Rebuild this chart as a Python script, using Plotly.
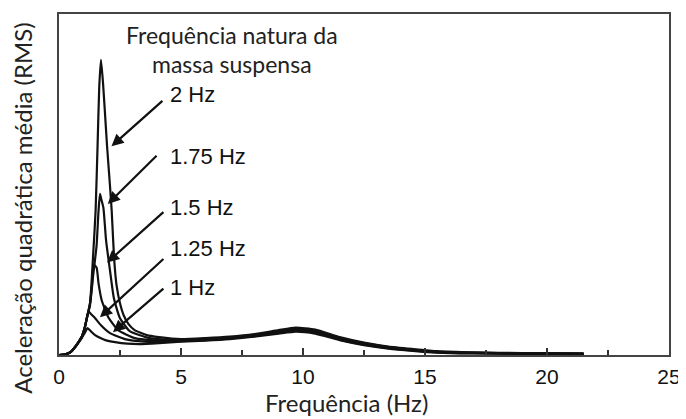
import plotly.graph_objects as go

# Frequência (Hz) / aceleração RMS (unidade arbitrária) por frequência natural
freq_1 = [0, 0.3, 0.5, 0.66, 0.8, 0.93, 1.05, 1.17, 1.3, 1.48, 1.7, 1.9, 2.3, 2.8, 3.3, 4.1,
          5, 6, 7, 8, 9, 9.7, 10.5, 11.5, 12.5, 13.5, 14.5, 15.5, 17, 19, 21.5]
rms_1 = [0, 1, 3.5, 8, 12.5, 17, 22, 27, 24, 20, 17, 15, 13, 11.5, 11, 12,
         13.5, 14.5, 16, 18.5, 21.5, 23.5, 21.5, 15, 10, 6.5, 4.2, 2.4, 1.5, 1.1, 0.8]

freq_125 = [0, 0.3, 0.5, 0.66, 0.8, 0.93, 1.05, 1.14, 1.21, 1.32, 1.48, 1.72, 2.09, 2.7, 3.5, 4.55,
            5, 6, 7, 8, 9, 9.7, 10.5, 11.5, 12.5, 13.5, 14.5, 15.5, 17, 19, 21.5]
rms_125 = [0, 1, 3.5, 8, 13, 18, 27, 37, 44, 41, 37, 30, 22, 16, 13.5, 13.5,
           14, 15, 16.5, 19, 22.5, 24.5, 22.5, 15.5, 10.5, 7, 4.6, 2.7, 1.8, 1.3, 1]

freq_15 = [0, 0.3, 0.5, 0.66, 0.8, 0.93, 1.05, 1.14, 1.27, 1.35, 1.42, 1.54, 1.62, 1.75, 2.02, 2.42, 3.1, 4.1,
           5, 6, 7, 8, 9, 9.7, 10.5, 11.5, 12.5, 13.5, 14.5, 15.5, 17, 19, 21.5]
rms_15 = [0, 1, 3.5, 8, 13, 18, 27, 37, 52, 70, 91, 88, 72, 55, 38, 25, 17, 14.5,
          14.5, 15.5, 17, 19.5, 23, 25.5, 23.5, 16.5, 11.5, 7.5, 5, 3, 2, 1.5, 1.1]

freq_175 = [0, 0.3, 0.5, 0.66, 0.8, 0.93, 1.05, 1.14, 1.27, 1.4, 1.54, 1.62, 1.68, 1.74, 1.82, 1.93,
            2.09, 2.25, 2.5, 2.9, 3.7, 4.75,
            5.2, 6, 7, 8, 9, 9.7, 10.5, 11.5, 12.5, 13.5, 14.5, 15.5, 17, 19, 21.5]
rms_175 = [0, 1, 3.5, 8, 13, 18, 27, 37, 50, 80, 110, 145, 162, 156, 148, 115,
           85, 57, 37, 24, 17, 15,
           15, 16, 17.5, 20, 24, 26.5, 24.5, 17, 12, 8, 5.5, 3.4, 2.3, 1.8, 1.3]

freq_2 = [0, 0.3, 0.5, 0.66, 0.8, 0.93, 1.05, 1.14, 1.27, 1.41, 1.5, 1.58, 1.65, 1.72, 1.8, 1.88,
          1.97, 2.09, 2.16, 2.22, 2.28, 2.36, 2.5, 2.65, 2.85, 3.1, 3.6, 4.1,
          5, 6, 7, 8, 9, 9.7, 10.5, 11.5, 12.5, 13.5, 14.5, 15.5, 17, 19, 21.5]
rms_2 = [0, 1, 3.5, 8, 13, 18, 27, 37, 52, 105, 145, 210, 270, 297, 275, 245,
         210, 170, 145, 115, 90, 70, 52, 40, 31, 25, 20, 18,
         16, 17, 18.5, 21, 25, 27.5, 25.5, 18, 12.5, 8.5, 6, 3.8, 2.6, 2, 1.6]

series = [(freq_1, rms_1), (freq_125, rms_125), (freq_15, rms_15),
          (freq_175, rms_175), (freq_2, rms_2)]

# rótulos das curvas: texto, posição do texto, ponta da seta
labels = ['2 Hz', '1.75 Hz', '1.5 Hz', '1.25 Hz', '1 Hz']
label_y = [262, 200, 148, 107, 68]
arrow_tail = [(4.30, 257), (4.06, 202), (4.34, 145), (4.34, 98), (4.34, 68)]
arrow_tip = [(2.15, 210), (2.0, 152), (1.97, 93), (1.68, 38), (2.21, 23)]

x_ticks = [0, 5, 10, 15, 20, 25]

fig = go.Figure()

for fx, fy in series:
    fig.add_trace(go.Scatter(
        x=fx, y=fy,
        mode='lines',
        line=dict(color='#111111', width=2.2, shape='spline', smoothing=0.5),
        showlegend=False,
        hoverinfo='skip'
    ))

annotations = []
for txt, ly in zip(labels, label_y):
    annotations.append(dict(
        x=4.47, y=ly, xref='x', yref='y', text=txt, showarrow=False,
        xanchor='left', yanchor='middle',
        font=dict(family='Liberation Sans, Arial', size=22, color='#111111')
    ))
for (tx, ty), (hx, hy) in zip(arrow_tail, arrow_tip):
    annotations.append(dict(
        x=hx, y=hy, ax=tx, ay=ty, xref='x', yref='y', axref='x', ayref='y',
        text='', showarrow=True, arrowhead=2, arrowsize=1.1, arrowwidth=2.2,
        arrowcolor='#111111', standoff=0
    ))

# título interno
annotations.append(dict(
    x=7.09, y=322, xref='x', yref='y', text='Frequência natura da', showarrow=False,
    font=dict(family='Lato', size=23, color='#222222')
))
annotations.append(dict(
    x=7.09, y=293, xref='x', yref='y', text='massa suspensa', showarrow=False,
    font=dict(family='Lato', size=23, color='#222222')
))

# títulos dos eixos
annotations.append(dict(
    x=-0.06, y=0.43, xref='paper', yref='paper', text='Aceleração quadrática média (RMS)',
    showarrow=False, textangle=-90, xanchor='center', yanchor='middle',
    font=dict(family='Lato', size=24, color='#222222')
))
annotations.append(dict(
    x=0.472, y=-0.138, xref='paper', yref='paper', text='Frequência (Hz)',
    showarrow=False, xanchor='center', yanchor='middle',
    font=dict(family='Lato', size=24, color='#222222')
))

# a página tem 8 px de margem: a figura fica 8 px menor
fig.update_layout(
    width=678, height=411,
    margin=dict(l=51, r=17, t=4, b=64),
    paper_bgcolor='white', plot_bgcolor='white',
    annotations=annotations,
    xaxis=dict(
        range=[0, 25], tickvals=x_ticks, ticks='inside', ticklen=7, tickwidth=1.5,
        tickcolor='#333333', showgrid=False, zeroline=False,
        showline=True, linecolor='#444444', linewidth=2, mirror=True,
        tickfont=dict(family='Liberation Sans, Arial', size=21, color='#111111'),
        ticklabelstandoff=2,
        minor=dict(tickvals=[2.5, 7.5, 12.5, 17.5, 22.5], ticks='inside', ticklen=5,
                   tickwidth=1.5, tickcolor='#333333', showgrid=False)
    ),
    yaxis=dict(
        range=[0, 343], showticklabels=False, ticks='', showgrid=False, zeroline=False,
        showline=True, linecolor='#444444', linewidth=2, mirror=True
    )
)

fig.write_html("out.html")
